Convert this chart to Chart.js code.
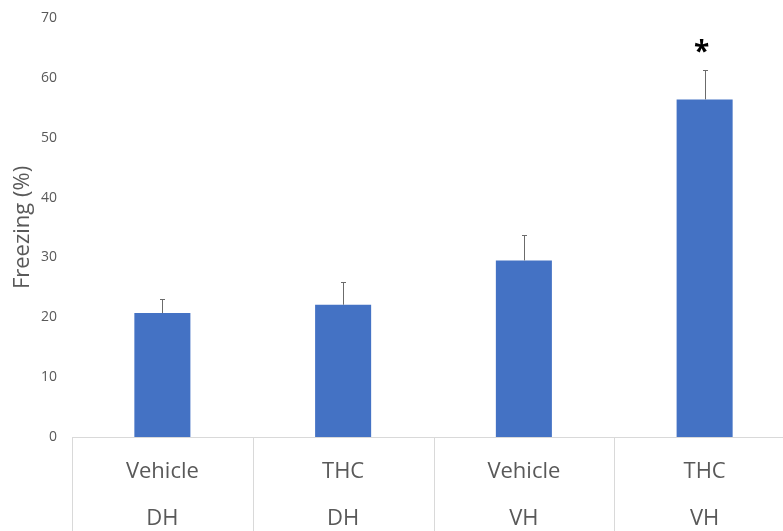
<!DOCTYPE html>
<html>
<head>
<meta charset="utf-8">
<script src="https://cdn.jsdelivr.net/npm/chart.js@4.4.1/dist/chart.umd.min.js"></script>
<style>
  html, body { margin: 0; padding: 0; background: #fff; overflow: hidden; }
  #wrap { width: 796px; height: 531px; }
</style>
</head>
<body>
<div id="wrap"><canvas id="freezing-chart" width="796" height="531"></canvas></div>
<script>
// treatment / region for each group
const treatments = ["Vehicle", "THC", "Vehicle", "THC"];
const regions = ["DH", "DH", "VH", "VH"];

// mean freezing (%) and SEM
const freezing = [20.7, 22.1, 29.5, 56.4];
const sem = [2.4, 3.8, 4.2, 4.9];
const significance = ["", "", "", "*"];

const yMax = 70;
const yStep = 10;

const labels = treatments.map((t, i) => [t, regions[i]]);

const axisGrey = "#d9d9d9";
const textGrey = "#595959";

// upward-only error bars
const errorBars = {
  id: "errorBars",
  afterDatasetsDraw(chart) {
    const ctx = chart.ctx;
    const y = chart.scales.y;
    const bars = chart.getDatasetMeta(0).data;
    ctx.save();
    ctx.strokeStyle = "#6b6b6b";
    ctx.lineWidth = 1;
    bars.forEach((bar, i) => {
      const x = Math.round(bar.x) + 0.5;
      const top = Math.round(y.getPixelForValue(freezing[i] + sem[i])) + 0.5;
      ctx.beginPath();
      ctx.moveTo(x, bar.y);
      ctx.lineTo(x, top);
      ctx.moveTo(x - 2.5, top);
      ctx.lineTo(x + 2.5, top);
      ctx.stroke();
      if (significance[i]) {
        ctx.fillStyle = "#000";
        ctx.font = "bold 28px 'Open Sans'";
        ctx.textAlign = "center";
        ctx.textBaseline = "middle";
        ctx.fillText(significance[i], bar.x - 3, top - 17);
      }
    });
    ctx.restore();
  }
};

// vertical separators between the category groups
const groupDividers = {
  id: "groupDividers",
  afterDraw(chart) {
    const ctx = chart.ctx;
    const x = chart.scales.x;
    const n = labels.length;
    const step = x.getPixelForValue(1) - x.getPixelForValue(0);
    ctx.save();
    ctx.strokeStyle = axisGrey;
    ctx.lineWidth = 1;
    for (let i = 0; i <= n; i++) {
      const px = Math.round(x.getPixelForValue(i) - step / 2) + 0.5;
      ctx.beginPath();
      ctx.moveTo(px, chart.chartArea.bottom);
      ctx.lineTo(px, chart.height);
      ctx.stroke();
    }
    ctx.restore();
  }
};

const ctx = document.getElementById("freezing-chart").getContext("2d");

const chart = new Chart(ctx, {
  type: "bar",
  data: {
    labels: labels,
    datasets: [
      {
        label: "Freezing",
        data: freezing,
        backgroundColor: "#4472c4",
        borderWidth: 0,
        categoryPercentage: 1,
        barPercentage: 0.31
      }
    ]
  },
  options: {
    responsive: false,
    animation: false,
    layout: { padding: { top: 0, right: 1, bottom: 0, left: 0 } },
    plugins: {
      legend: { display: false },
      tooltip: { enabled: false }
    },
    scales: {
      x: {
        grid: { display: false, drawTicks: false },
        border: { display: true, color: axisGrey, width: 1 },
        ticks: {
          color: textGrey,
          padding: 11,
          maxRotation: 0,
          font: { family: "'Open Sans'", size: 22, lineHeight: "47px" }
        },
        afterFit(scale) { scale.height = 94; }
      },
      y: {
        min: 0,
        max: yMax,
        grid: { display: false, drawTicks: false },
        border: { display: false },
        ticks: {
          stepSize: yStep,
          color: textGrey,
          padding: 15,
          font: { family: "'Open Sans'", size: 14 }
        },
        title: {
          display: true,
          text: "Freezing (%)",
          color: textGrey,
          padding: { top: 10, bottom: 0 },
          font: { family: "'Open Sans'", size: 22 }
        },
        afterFit(scale) {
          scale.width = 72;
          scale.paddingTop = 18;
        }
      }
    }
  },
  plugins: [errorBars, groupDividers]
});
</script>
</body>
</html>
